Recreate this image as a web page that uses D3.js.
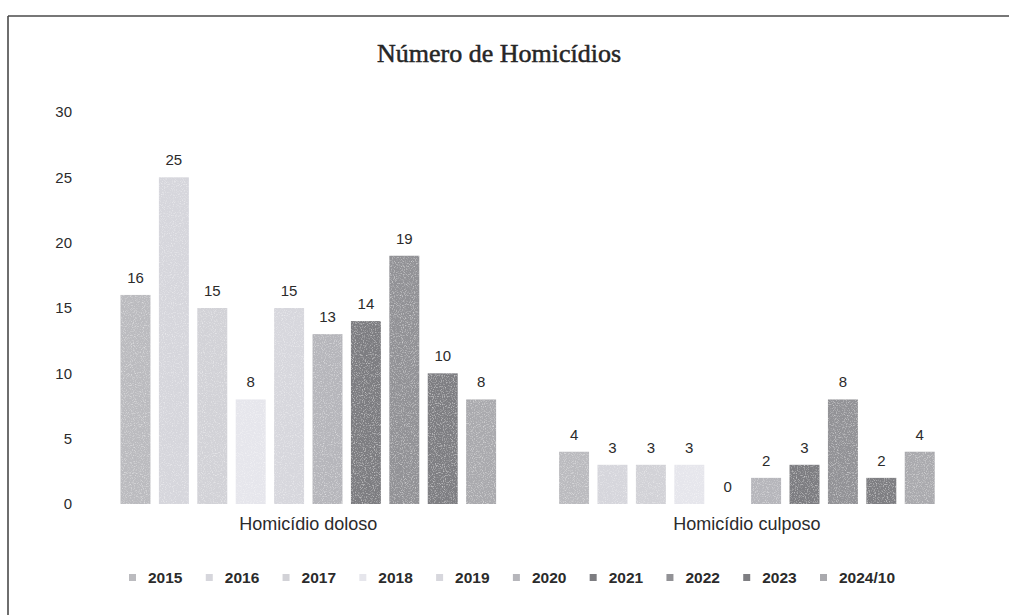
<!DOCTYPE html>
<meta charset="utf-8">
<script src="https://d3js.org/d3.v7.min.js"></script>
<style>
  body { margin: 0; background: #fff; }
  svg { display: block; }
</style>
<div id="chart"></div>
<script>

// chart values
var categories = ["Homicídio doloso", "Homicídio culposo"];
var years = ["2015", "2016", "2017", "2018", "2019", "2020", "2021", "2022", "2023", "2024/10"];
var doloso = [16, 25, 15, 8, 15, 13, 14, 19, 10, 8];
var culposo = [4, 3, 3, 3, 0, 2, 3, 8, 2, 4];
var yTicks = [0, 5, 10, 15, 20, 25, 30];
var yearColors = ["#bbbbbf", "#d6d6dc", "#d2d2d7", "#e6e6ec", "#d7d7dd", "#b6b6bb", "#7d7d81", "#929296", "#7e7e82", "#aaaaae"];

var W = 1009, H = 615;

var svg = d3.select("#chart")
  .append("svg")
    .attr("width", W)
    .attr("height", H);

// light grain filter to mimic the scanned print
var defs = svg.append("defs");
var f = defs.append("filter").attr("id", "grain").attr("x", 0).attr("y", 0).attr("width", 1).attr("height", 1);
f.append("feTurbulence").attr("type", "fractalNoise").attr("baseFrequency", 0.9).attr("numOctaves", 2).attr("seed", 3).attr("result", "noise");
f.append("feColorMatrix").attr("in", "noise").attr("type", "matrix")
  .attr("values", "0 0 0 0 1  0 0 0 0 1  0 0 0 0 1  0 0 0 -1.2 0.6").attr("result", "dots");
f.append("feComposite").attr("in", "dots").attr("in2", "SourceGraphic").attr("operator", "in").attr("result", "dotsIn");
f.append("feMerge").call(function (m) {
  m.append("feMergeNode").attr("in", "SourceGraphic");
  m.append("feMergeNode").attr("in", "dotsIn");
});

// page frame (only top and left edges are visible in the scan)
svg.append("line")
  .attr("x1", 8).attr("y1", 16).attr("x2", W).attr("y2", 16)
  .attr("stroke", "#4a4a4a").attr("stroke-width", 1.6);
svg.append("line")
  .attr("x1", 8).attr("y1", 16).attr("x2", 8).attr("y2", H)
  .attr("stroke", "#4a4a4a").attr("stroke-width", 1.6);

// title
svg.append("text")
  .attr("x", 499)
  .attr("y", 62)
  .attr("text-anchor", "middle")
  .style("font-family", "'Liberation Serif', serif")
  .style("font-size", "26px")
  .style("fill", "#262626")
  .style("stroke", "#262626")
  .style("stroke-width", 0.5)
  .text("Número de Homicídios");

// scales
var y = d3.scaleLinear()
  .domain([0, 30])
  .range([504, 112]);

var x0 = d3.scaleBand()
  .domain(categories)
  .range([89, 966.2])
  .padding(0);

var x1 = d3.scaleBand()
  .domain(years)
  .range([0, x0.bandwidth()])
  .paddingInner(0.22)
  .paddingOuter(0.82);

var color = d3.scaleOrdinal()
  .domain(years)
  .range(yearColors);

// y axis labels only, no line
var yAxis = svg.append("g")
  .attr("transform", "translate(72,0)")
  .call(d3.axisLeft(y).tickValues(yTicks).tickSize(0).tickPadding(0));
yAxis.select(".domain").remove();
yAxis.selectAll("text")
  .style("font-family", "'Liberation Sans', Arial, sans-serif")
  .style("font-size", "15px")
  .style("fill", "#2b2b2b");

// one group per category
var series = [doloso, culposo];
var groups = svg.selectAll(".cat")
  .data(categories)
  .enter()
  .append("g")
    .attr("class", "cat")
    .attr("transform", function (d) { return "translate(" + x0(d) + ",0)"; });

function rows(d, i) {
  return years.map(function (yr, j) { return {year: yr, value: series[i][j]}; });
}

groups.selectAll("rect")
  .data(rows)
  .enter()
  .append("rect")
    .attr("x", function (d) { return x1(d.year); })
    .attr("y", function (d) { return y(d.value); })
    .attr("width", x1.bandwidth())
    .attr("height", function (d) { return y(0) - y(d.value); })
    .attr("fill", function (d) { return color(d.year); })
    .attr("filter", "url(#grain)");

groups.selectAll(".val")
  .data(rows)
  .enter()
  .append("text")
    .attr("class", "val")
    .attr("x", function (d) { return x1(d.year) + x1.bandwidth() / 2; })
    .attr("y", function (d) { return y(d.value) - 12; })
    .attr("text-anchor", "middle")
    .style("font-family", "'Liberation Sans', Arial, sans-serif")
    .style("font-size", "15px")
    .style("fill", "#2b2b2b")
    .text(function (d) { return d.value; });

// category labels under each group
groups.append("text")
  .attr("x", x0.bandwidth() / 2)
  .attr("y", 530)
  .attr("text-anchor", "middle")
  .style("font-family", "'Liberation Sans', Arial, sans-serif")
  .style("font-size", "18px")
  .style("fill", "#2b2b2b")
  .text(function (d) { return d; });

// legend
var lx = d3.scalePoint()
  .domain(years)
  .range([148, 839]);

var legend = svg.selectAll(".leg")
  .data(years)
  .enter()
  .append("g")
    .attr("class", "leg")
    .attr("transform", function (d) { return "translate(" + lx(d) + ",578)"; });

legend.append("rect")
  .attr("x", -19)
  .attr("y", -4)
  .attr("width", 7)
  .attr("height", 7)
  .attr("fill", function (d) { return color(d); });

legend.append("text")
  .attr("x", 0)
  .attr("y", 5)
  .style("font-family", "'Liberation Sans', Arial, sans-serif")
  .style("font-weight", "bold")
  .style("font-size", "15.5px")
  .style("fill", "#2b2b2b")
  .text(function (d) { return d; });

</script>
